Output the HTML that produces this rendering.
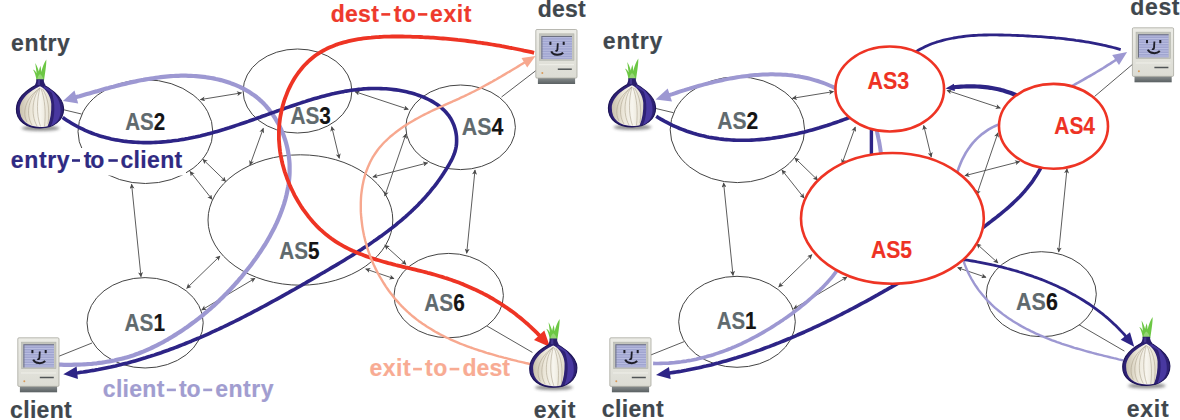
<!DOCTYPE html>
<html><head><meta charset="utf-8"><style>
html,body{margin:0;padding:0;background:#fff;}
svg{display:block;}
</style></head><body>
<svg width="1180" height="420" viewBox="0 0 1180 420">
<defs>
<filter id="blur1" x="-50%" y="-200%" width="200%" height="500%"><feGaussianBlur stdDeviation="1.5"/></filter>
<linearGradient id="creamA" x1="0" y1="0" x2="1" y2="0"><stop offset="0" stop-color="#c9c1ad"/><stop offset="0.35" stop-color="#ebe6d8"/><stop offset="0.65" stop-color="#f7f5ee"/><stop offset="1" stop-color="#e2dccb"/></linearGradient>
<linearGradient id="creamB" x1="0" y1="0" x2="1" y2="0"><stop offset="0" stop-color="#c9c1ad"/><stop offset="0.35" stop-color="#ebe6d8"/><stop offset="0.65" stop-color="#f7f5ee"/><stop offset="1" stop-color="#e2dccb"/></linearGradient>
<linearGradient id="creamC" x1="0" y1="0" x2="1" y2="0"><stop offset="0" stop-color="#c9c1ad"/><stop offset="0.35" stop-color="#ebe6d8"/><stop offset="0.65" stop-color="#f7f5ee"/><stop offset="1" stop-color="#e2dccb"/></linearGradient>
<linearGradient id="creamD" x1="0" y1="0" x2="1" y2="0"><stop offset="0" stop-color="#c9c1ad"/><stop offset="0.35" stop-color="#ebe6d8"/><stop offset="0.65" stop-color="#f7f5ee"/><stop offset="1" stop-color="#e2dccb"/></linearGradient>
<linearGradient id="body" x1="0" y1="0" x2="0" y2="1"><stop offset="0" stop-color="#ececE6"/><stop offset="1" stop-color="#dcdcd4"/></linearGradient>
<linearGradient id="base" x1="0" y1="0" x2="0" y2="1"><stop offset="0" stop-color="#8a8f90"/><stop offset="1" stop-color="#5a6062"/></linearGradient>
<marker id="ahe" viewBox="0 0 10 10" refX="9" refY="5" markerWidth="6" markerHeight="5" markerUnits="userSpaceOnUse" orient="auto"><path d="M0,0 L10,5 L0,10 L2.5,5 Z" fill="#4a4a4a"/></marker>
<marker id="ahs" viewBox="0 0 10 10" refX="1" refY="5" markerWidth="6" markerHeight="5" markerUnits="userSpaceOnUse" orient="auto"><path d="M10,0 L0,5 L10,10 L7.5,5 Z" fill="#4a4a4a"/></marker>
<marker id="lpah" viewBox="0 0 10 10" refX="8" refY="5" markerWidth="16" markerHeight="12" markerUnits="userSpaceOnUse" orient="auto"><path d="M0,0 L10,5 L0,10 L2,5 Z" fill="#9d98d2"/></marker>
<marker id="lpah2" viewBox="0 0 10 10" refX="8" refY="5" markerWidth="14" markerHeight="11" markerUnits="userSpaceOnUse" orient="auto"><path d="M0,0 L10,5 L0,10 L2,5 Z" fill="#9d98d2"/></marker>
<marker id="dbah" viewBox="0 0 10 10" refX="8" refY="5" markerWidth="15" markerHeight="11" markerUnits="userSpaceOnUse" orient="auto"><path d="M0,0 L10,5 L0,10 L2,5 Z" fill="#2d2486"/></marker>
<marker id="dbah2" viewBox="0 0 10 10" refX="8" refY="5" markerWidth="13" markerHeight="10" markerUnits="userSpaceOnUse" orient="auto"><path d="M0,0 L10,5 L0,10 L2,5 Z" fill="#2d2486"/></marker>
<marker id="redah" viewBox="0 0 10 10" refX="8" refY="5" markerWidth="15" markerHeight="11" markerUnits="userSpaceOnUse" orient="auto"><path d="M0,0 L10,5 L0,10 L2,5 Z" fill="#ee3424"/></marker>
<marker id="salah" viewBox="0 0 10 10" refX="8" refY="5" markerWidth="13" markerHeight="10" markerUnits="userSpaceOnUse" orient="auto"><path d="M0,0 L10,5 L0,10 L2,5 Z" fill="#f7a88f"/></marker>
</defs>
<g stroke="#4a4a4a" stroke-width="0.9" fill="none">
<line x1="200.4" y1="99.6" x2="241.5" y2="92.9" marker-start="url(#ahs)" marker-end="url(#ahe)"/>
<line x1="190" y1="171.4" x2="212.1" y2="199.3" marker-start="url(#ahs)" marker-end="url(#ahe)"/>
<line x1="202.9" y1="159.3" x2="225.7" y2="181.4" marker-start="url(#ahs)" marker-end="url(#ahe)"/>
<line x1="263.3" y1="128.3" x2="250" y2="165" marker-start="url(#ahs)" marker-end="url(#ahe)"/>
<line x1="331.7" y1="126.7" x2="339.3" y2="158.3" marker-start="url(#ahs)" marker-end="url(#ahe)"/>
<line x1="355" y1="91.7" x2="408.3" y2="109.3" marker-start="url(#ahs)" marker-end="url(#ahe)"/>
<line x1="131.6" y1="184.2" x2="141" y2="276.7" marker-start="url(#ahs)" marker-end="url(#ahe)"/>
<line x1="186.7" y1="288.3" x2="220" y2="256" marker-start="url(#ahs)" marker-end="url(#ahe)"/>
<line x1="201.7" y1="310" x2="255" y2="278.3" marker-start="url(#ahs)" marker-end="url(#ahe)"/>
<line x1="372.9" y1="177" x2="427.6" y2="162.9" marker-start="url(#ahs)" marker-end="url(#ahe)"/>
<line x1="384.8" y1="196" x2="406" y2="134" marker-start="url(#ahs)" marker-end="url(#ahe)"/>
<line x1="475" y1="170" x2="466.7" y2="253.3" marker-start="url(#ahs)" marker-end="url(#ahe)"/>
<line x1="384.8" y1="245.2" x2="406" y2="264.3" marker-start="url(#ahs)" marker-end="url(#ahe)"/>
<line x1="365.7" y1="269" x2="394" y2="278.6" marker-start="url(#ahs)" marker-end="url(#ahe)"/>
<line x1="487" y1="326" x2="532.4" y2="352.4"/>
<line x1="501.5" y1="97" x2="536" y2="70.5"/>
<line x1="92" y1="343" x2="57" y2="357"/>
<line x1="81.5" y1="114" x2="62.6" y2="109.5"/>
</g>
<ellipse cx="145.4" cy="131.6" rx="67.4" ry="51.9" fill="none" stroke="#444" stroke-width="1"/>
<ellipse cx="297.5" cy="91" rx="54.4" ry="42" fill="none" stroke="#444" stroke-width="1"/>
<ellipse cx="460.6" cy="127.3" rx="54.8" ry="42.3" fill="none" stroke="#444" stroke-width="1"/>
<ellipse cx="300.4" cy="220" rx="92.4" ry="65.2" fill="none" stroke="#444" stroke-width="1"/>
<ellipse cx="145.1" cy="322.8" rx="58.1" ry="45.2" fill="none" stroke="#444" stroke-width="1"/>
<ellipse cx="448.7" cy="295.6" rx="54.7" ry="42.2" fill="none" stroke="#444" stroke-width="1"/>
<path d="M58.9,364.6 L61.4,364.7 L64.0,364.8 L66.5,364.8 L69.0,364.8 L71.5,364.8 L74.1,364.7 L76.6,364.7 L79.1,364.6 L81.7,364.5 L84.2,364.3 L86.7,364.2 L89.3,364.0 L91.8,363.8 L94.3,363.5 L96.8,363.3 L99.3,362.9 L101.9,362.6 L104.4,362.2 L106.9,361.8 L109.4,361.4 L111.8,360.9 L114.3,360.5 L116.8,359.9 L119.2,359.3 L121.7,358.7 L124.1,358.1 L126.6,357.4 L129.0,356.7 L131.4,355.9 L133.8,355.2 L136.1,354.3 L138.5,353.5 L140.9,352.5 L143.2,351.6 L145.5,350.6 L147.8,349.6 L150.1,348.6 L152.4,347.5 L154.7,346.4 L156.9,345.3 L159.1,344.2 L161.4,343.0 L163.6,341.8 L165.8,340.5 L168.0,339.3 L170.1,338.0 L172.3,336.7 L174.4,335.4 L176.5,334.1 L178.6,332.7 L180.7,331.4 L182.8,330.0 L184.8,328.6 L186.9,327.2 L188.9,325.8 L190.9,324.3 L192.9,322.8 L194.9,321.4 L196.8,319.9 L198.8,318.4 L200.7,316.8 L202.6,315.3 L204.5,313.7 L206.4,312.1 L208.3,310.5 L210.2,308.9 L212.0,307.3 L213.9,305.6 L215.7,304.0 L217.5,302.3 L219.3,300.6 L221.1,298.8 L222.9,297.1 L224.6,295.3 L226.4,293.6 L228.1,291.8 L229.8,290.0 L231.5,288.1 L233.2,286.3 L234.9,284.4 L236.6,282.5 L238.3,280.6 L239.9,278.7 L241.6,276.8 L243.2,274.8 L244.8,272.8 L246.4,270.8 L248.0,268.8 L249.6,266.8 L251.2,264.7 L252.7,262.6 L254.2,260.5 L255.8,258.4 L257.3,256.3 L258.7,254.2 L260.2,252.0 L261.6,249.9 L263.0,247.7 L264.4,245.5 L265.8,243.3 L267.1,241.1 L268.4,238.8 L269.7,236.6 L270.9,234.3 L272.1,232.1 L273.3,229.8 L274.5,227.5 L275.6,225.2 L276.7,222.9 L277.7,220.6 L278.7,218.2 L279.7,215.9 L280.6,213.5 L281.5,211.2 L282.4,208.8 L283.2,206.4 L284.0,204.1 L284.7,201.7 L285.4,199.3 L286.0,196.9 L286.6,194.5 L287.1,192.1 L287.6,189.7 L288.1,187.2 L288.5,184.8 L288.8,182.4 L289.1,180.0 L289.3,177.5 L289.5,175.1 L289.6,172.7 L289.6,170.2 L289.6,167.8 L289.6,165.3 L289.5,162.9 L289.3,160.5 L289.0,158.0 L288.7,155.6 L288.3,153.1 L287.9,150.7 L287.4,148.3 L286.8,145.8 L286.2,143.4 L285.5,141.0 L284.7,138.6 L283.9,136.2 L283.0,133.8 L282.0,131.5 L281.0,129.2 L279.9,126.9 L278.8,124.6 L277.6,122.4 L276.3,120.2 L275.0,118.0 L273.6,115.9 L272.2,113.8 L270.7,111.7 L269.1,109.7 L267.5,107.8 L265.9,105.9 L264.2,104.1 L262.4,102.3 L260.6,100.6 L258.7,98.9 L256.8,97.3 L254.8,95.8 L252.8,94.4 L250.7,93.0 L248.6,91.6 L246.4,90.4 L244.2,89.2 L242.0,88.0 L239.8,86.9 L237.5,85.9 L235.2,84.9 L232.8,84.0 L230.4,83.1 L228.0,82.3 L225.6,81.5 L223.2,80.8 L220.8,80.1 L218.3,79.5 L215.8,79.0 L213.4,78.4 L210.9,78.0 L208.4,77.6 L205.9,77.2 L203.4,76.9 L200.9,76.6 L198.4,76.3 L195.9,76.1 L193.4,76.0 L190.9,75.8 L188.4,75.8 L185.9,75.7 L183.4,75.7 L180.9,75.7 L178.4,75.8 L175.9,75.9 L173.3,76.0 L170.8,76.2 L168.3,76.4 L165.8,76.6 L163.3,76.9 L160.8,77.2 L158.3,77.5 L155.8,77.8 L153.3,78.2 L150.8,78.6 L148.3,79.0 L145.8,79.4 L143.3,79.9 L140.8,80.3 L138.3,80.8 L135.8,81.4 L133.3,81.9 L130.8,82.4 L128.3,83.0 L125.8,83.6 L123.3,84.2 L120.9,84.8 L118.4,85.4 L115.9,86.0 L113.5,86.7 L111.0,87.3 L108.6,88.0 L106.1,88.6 L103.7,89.3 L101.2,90.0 L98.8,90.7 L96.4,91.4 L94.0,92.0 L91.6,92.7 L89.2,93.4 L86.8,94.1 L84.4,94.8 L82.0,95.5 L79.6,96.2 L77.2,96.8 L74.9,97.5" stroke="#9d98d2" stroke-width="4.2" fill="none" stroke-linejoin="round" /><path d="M62.9,101.0 L74.5,90.6 L78.2,103.6 Z" fill="#9d98d2"/>
<path d="M62.7,117.4 L64.8,119.0 L67.0,120.4 L69.2,121.8 L71.5,123.2 L73.7,124.5 L76.0,125.8 L78.2,127.0 L80.5,128.1 L82.8,129.2 L85.1,130.3 L87.5,131.3 L89.8,132.3 L92.1,133.2 L94.5,134.1 L96.9,134.9 L99.2,135.7 L101.6,136.4 L104.0,137.1 L106.4,137.7 L108.8,138.3 L111.2,138.9 L113.7,139.4 L116.1,139.9 L118.5,140.3 L121.0,140.7 L123.4,141.1 L125.9,141.4 L128.4,141.7 L130.8,141.9 L133.3,142.1 L135.8,142.3 L138.3,142.4 L140.7,142.5 L143.2,142.6 L145.7,142.6 L148.2,142.6 L150.7,142.6 L153.2,142.5 L155.7,142.4 L158.2,142.3 L160.7,142.1 L163.2,141.9 L165.6,141.7 L168.1,141.4 L170.6,141.2 L173.1,140.8 L175.6,140.5 L178.1,140.2 L180.6,139.8 L183.0,139.4 L185.5,138.9 L188.0,138.5 L190.4,138.0 L192.9,137.5 L195.3,137.0 L197.8,136.4 L200.2,135.9 L202.7,135.3 L205.1,134.7 L207.5,134.1 L209.9,133.4 L212.4,132.8 L214.8,132.1 L217.2,131.4 L219.6,130.7 L222.0,130.0 L224.4,129.3 L226.8,128.5 L229.2,127.8 L231.6,127.0 L233.9,126.2 L236.3,125.4 L238.7,124.6 L241.1,123.8 L243.5,123.0 L245.8,122.2 L248.2,121.4 L250.6,120.5 L252.9,119.7 L255.3,118.9 L257.7,118.0 L260.1,117.2 L262.4,116.3 L264.8,115.5 L267.2,114.6 L269.5,113.8 L271.9,112.9 L274.3,112.1 L276.6,111.3 L279.0,110.4 L281.4,109.6 L283.7,108.7 L286.1,107.9 L288.5,107.1 L290.9,106.3 L293.2,105.5 L295.6,104.7 L298.0,103.9 L300.4,103.1 L302.8,102.3 L305.1,101.6 L307.5,100.8 L309.9,100.1 L312.3,99.3 L314.7,98.6 L317.1,97.9 L319.5,97.3 L321.9,96.6 L324.4,95.9 L326.8,95.3 L329.2,94.7 L331.6,94.1 L334.0,93.6 L336.5,93.0 L338.9,92.5 L341.4,92.0 L343.8,91.6 L346.2,91.1 L348.7,90.7 L351.2,90.3 L353.6,90.0 L356.1,89.7 L358.6,89.4 L361.0,89.2 L363.5,88.9 L366.0,88.8 L368.5,88.6 L371.0,88.5 L373.5,88.5 L376.0,88.5 L378.5,88.5 L381.0,88.6 L383.5,88.7 L386.1,88.8 L388.6,89.0 L391.1,89.3 L393.7,89.6 L396.2,89.9 L398.8,90.3 L401.3,90.8 L403.9,91.3 L406.5,91.8 L409.0,92.4 L411.5,93.1 L414.1,93.8 L416.6,94.6 L419.0,95.5 L421.5,96.4 L423.9,97.3 L426.2,98.4 L428.5,99.5 L430.8,100.6 L433.0,101.9 L435.1,103.2 L437.1,104.5 L439.1,106.0 L441.0,107.5 L442.8,109.1 L444.6,110.8 L446.2,112.5 L447.7,114.3 L449.2,116.2 L450.5,118.2 L451.7,120.3 L452.7,122.4 L453.7,124.7 L454.5,126.9 L455.2,129.3 L455.8,131.7 L456.2,134.1 L456.5,136.5 L456.6,139.0 L456.6,141.5 L456.5,144.0 L456.2,146.5 L455.7,148.9 L455.1,151.4 L454.3,153.8 L453.3,156.1 L452.3,158.5 L451.1,160.8 L449.9,163.0 L448.6,165.3 L447.3,167.5 L445.9,169.7 L444.6,171.8 L443.2,174.0 L441.8,176.1 L440.3,178.2 L438.9,180.2 L437.4,182.3 L435.9,184.3 L434.4,186.3 L432.8,188.2 L431.2,190.2 L429.7,192.1 L428.0,194.0 L426.4,195.9 L424.8,197.7 L423.1,199.5 L421.4,201.4 L419.7,203.1 L418.0,204.9 L416.2,206.7 L414.4,208.4 L412.7,210.1 L410.9,211.8 L409.0,213.5 L407.2,215.2 L405.4,216.8 L403.5,218.4 L401.6,220.1 L399.7,221.7 L397.8,223.2 L395.9,224.8 L393.9,226.4 L392.0,227.9 L390.0,229.4 L388.1,230.9 L386.1,232.4 L384.1,233.9 L382.1,235.4 L380.0,236.8 L378.0,238.3 L376.0,239.7 L373.9,241.1 L371.8,242.6 L369.8,244.0 L367.7,245.4 L365.6,246.7 L363.5,248.1 L361.4,249.5 L359.3,250.8 L357.2,252.2 L355.0,253.5 L352.9,254.9 L350.8,256.2 L348.6,257.5 L346.5,258.8 L344.3,260.2 L342.2,261.5 L340.0,262.8 L337.8,264.1 L335.7,265.4 L333.5,266.6 L331.3,267.9 L329.1,269.2 L327.0,270.5 L324.8,271.8 L322.6,273.0 L320.4,274.3 L318.2,275.6 L316.1,276.9 L313.9,278.1 L311.7,279.4 L309.5,280.7 L307.3,281.9 L305.1,283.2 L303.0,284.4 L300.8,285.7 L298.6,287.0 L296.4,288.2 L294.2,289.5 L292.0,290.7 L289.8,291.9 L287.6,293.2 L285.4,294.4 L283.2,295.6 L281.0,296.9 L278.8,298.1 L276.6,299.3 L274.4,300.5 L272.2,301.7 L270.0,302.9 L267.8,304.1 L265.6,305.3 L263.4,306.5 L261.2,307.7 L259.0,308.9 L256.7,310.1 L254.5,311.2 L252.3,312.4 L250.1,313.6 L247.9,314.7 L245.6,315.9 L243.4,317.0 L241.2,318.1 L238.9,319.3 L236.7,320.4 L234.5,321.5 L232.2,322.6 L230.0,323.7 L227.7,324.8 L225.5,325.9 L223.2,327.0 L221.0,328.0 L218.7,329.1 L216.4,330.1 L214.2,331.2 L211.9,332.2 L209.6,333.3 L207.4,334.3 L205.1,335.3 L202.8,336.3 L200.5,337.3 L198.2,338.3 L195.9,339.2 L193.6,340.2 L191.3,341.2 L189.0,342.1 L186.7,343.0 L184.4,344.0 L182.1,344.9 L179.8,345.8 L177.5,346.7 L175.1,347.6 L172.8,348.5 L170.5,349.3 L168.1,350.2 L165.8,351.0 L163.5,351.8 L161.1,352.7 L158.8,353.5 L156.4,354.3 L154.0,355.1 L151.7,355.8 L149.3,356.6 L146.9,357.3 L144.5,358.1 L142.1,358.8 L139.8,359.5 L137.4,360.2 L135.0,360.9 L132.6,361.6 L130.1,362.2 L127.7,362.9 L125.3,363.5 L122.9,364.1 L120.4,364.7 L118.0,365.3 L115.6,365.9 L113.1,366.4 L110.7,367.0 L108.2,367.5 L105.8,368.0 L103.3,368.5 L100.8,369.0 L98.3,369.5 L95.8,369.9 L93.4,370.4 L90.9,370.8 L88.3,371.2 L85.8,371.6 L83.3,372.0 L80.8,372.3 L78.3,372.7 L75.7,373.0" stroke="#2d2486" stroke-width="3.6" fill="none" stroke-linejoin="round" /><path d="M63.3,374.2 L76.6,366.6 L77.9,378.9 Z" fill="#2d2486"/>
<path d="M534.1,52.8 L531.6,52.2 L529.1,51.6 L526.5,51.1 L524.0,50.6 L521.5,50.0 L519.0,49.5 L516.5,49.0 L514.0,48.5 L511.6,48.0 L509.1,47.6 L506.6,47.1 L504.2,46.6 L501.7,46.2 L499.2,45.7 L496.8,45.3 L494.3,44.9 L491.9,44.5 L489.5,44.1 L487.0,43.7 L484.6,43.3 L482.1,43.0 L479.7,42.6 L477.3,42.3 L474.8,41.9 L472.4,41.6 L470.0,41.3 L467.5,41.0 L465.1,40.7 L462.7,40.4 L460.2,40.1 L457.8,39.9 L455.3,39.6 L452.9,39.3 L450.4,39.1 L448.0,38.9 L445.5,38.7 L443.0,38.5 L440.6,38.3 L438.1,38.1 L435.6,37.9 L433.1,37.7 L430.6,37.6 L428.1,37.4 L425.6,37.3 L423.0,37.2 L420.5,37.0 L417.9,36.9 L415.4,36.8 L412.8,36.8 L410.3,36.7 L407.7,36.6 L405.1,36.6 L402.5,36.5 L399.9,36.5 L397.2,36.5 L394.6,36.5 L392.0,36.5 L389.4,36.6 L386.8,36.6 L384.1,36.7 L381.5,36.8 L378.9,37.0 L376.3,37.1 L373.7,37.3 L371.1,37.6 L368.6,37.8 L366.0,38.1 L363.4,38.4 L360.9,38.8 L358.4,39.2 L355.9,39.6 L353.4,40.1 L350.9,40.6 L348.5,41.2 L346.1,41.8 L343.7,42.4 L341.3,43.1 L339.0,43.8 L336.6,44.6 L334.4,45.5 L332.1,46.4 L329.9,47.3 L327.7,48.3 L325.6,49.4 L323.5,50.5 L321.4,51.7 L319.4,52.9 L317.4,54.2 L315.4,55.5 L313.5,57.0 L311.7,58.5 L309.9,60.0 L308.1,61.6 L306.4,63.3 L304.7,65.0 L303.1,66.8 L301.5,68.7 L300.0,70.6 L298.5,72.5 L297.1,74.5 L295.7,76.5 L294.4,78.6 L293.1,80.8 L291.9,82.9 L290.7,85.1 L289.6,87.4 L288.5,89.6 L287.5,91.9 L286.6,94.3 L285.7,96.6 L284.8,99.0 L284.0,101.4 L283.3,103.8 L282.6,106.3 L282.0,108.8 L281.4,111.3 L280.9,113.8 L280.4,116.3 L280.0,118.8 L279.7,121.3 L279.4,123.9 L279.2,126.4 L279.0,129.0 L278.9,131.5 L278.9,134.1 L278.9,136.6 L278.9,139.1 L279.1,141.7 L279.3,144.2 L279.5,146.8 L279.8,149.3 L280.1,151.8 L280.5,154.3 L281.0,156.8 L281.5,159.3 L282.0,161.8 L282.6,164.3 L283.3,166.7 L284.0,169.2 L284.7,171.6 L285.5,174.0 L286.4,176.4 L287.2,178.8 L288.2,181.2 L289.1,183.6 L290.1,185.9 L291.2,188.2 L292.3,190.5 L293.4,192.8 L294.5,195.1 L295.7,197.3 L297.0,199.5 L298.3,201.7 L299.6,203.9 L300.9,206.0 L302.3,208.1 L303.7,210.2 L305.2,212.2 L306.7,214.2 L308.2,216.2 L309.8,218.1 L311.4,220.1 L313.0,221.9 L314.7,223.8 L316.4,225.6 L318.1,227.3 L319.9,229.1 L321.7,230.7 L323.6,232.4 L325.5,234.0 L327.4,235.5 L329.3,237.0 L331.3,238.5 L333.3,239.9 L335.4,241.3 L337.4,242.6 L339.5,243.9 L341.7,245.1 L343.8,246.3 L346.0,247.5 L348.2,248.6 L350.4,249.7 L352.7,250.8 L355.0,251.8 L357.2,252.8 L359.6,253.7 L361.9,254.6 L364.2,255.5 L366.6,256.4 L369.0,257.2 L371.3,258.0 L373.7,258.8 L376.2,259.6 L378.6,260.3 L381.0,261.0 L383.4,261.7 L385.9,262.4 L388.3,263.1 L390.8,263.7 L393.2,264.3 L395.7,265.0 L398.1,265.6 L400.6,266.2 L403.1,266.8 L405.5,267.4 L408.0,267.9 L410.4,268.5 L412.9,269.1 L415.4,269.7 L417.8,270.3 L420.3,270.9 L422.7,271.5 L425.2,272.1 L427.6,272.8 L430.1,273.4 L432.5,274.1 L434.9,274.8 L437.3,275.5 L439.7,276.2 L442.1,276.9 L444.5,277.7 L446.9,278.4 L449.3,279.2 L451.7,280.0 L454.0,280.9 L456.4,281.7 L458.7,282.6 L461.0,283.5 L463.4,284.4 L465.7,285.4 L468.0,286.4 L470.3,287.4 L472.5,288.4 L474.8,289.4 L477.1,290.5 L479.3,291.6 L481.6,292.7 L483.8,293.9 L486.0,295.0 L488.2,296.2 L490.4,297.5 L492.6,298.7 L494.7,300.0 L496.9,301.3 L499.0,302.6 L501.1,304.0 L503.2,305.4 L505.3,306.8 L507.4,308.2 L509.4,309.6 L511.5,311.1 L513.5,312.6 L515.5,314.1 L517.5,315.7 L519.5,317.2 L521.4,318.8 L523.3,320.4 L525.3,322.1 L527.2,323.7 L529.0,325.4 L530.9,327.1 L532.7,328.8 L534.6,330.6 L536.4,332.3 L538.1,334.1 L539.9,335.9 L541.6,337.8" stroke="#ee3424" stroke-width="3.8" fill="none" stroke-linejoin="round" /><path d="M550.0,347.1 L534.0,340.1 L544.3,330.6 Z" fill="#ee3424"/>
<path d="M532.7,364.7 L530.3,364.1 L527.9,363.5 L525.5,363.0 L523.1,362.4 L520.7,361.8 L518.3,361.3 L515.8,360.7 L513.4,360.1 L511.0,359.5 L508.6,358.8 L506.1,358.2 L503.7,357.6 L501.2,356.9 L498.8,356.3 L496.3,355.6 L493.9,354.9 L491.5,354.2 L489.0,353.5 L486.6,352.8 L484.2,352.0 L481.7,351.2 L479.3,350.5 L476.9,349.7 L474.5,348.9 L472.1,348.0 L469.7,347.2 L467.3,346.3 L464.9,345.4 L462.6,344.5 L460.2,343.6 L457.9,342.6 L455.6,341.6 L453.2,340.6 L450.9,339.6 L448.7,338.5 L446.4,337.5 L444.1,336.4 L441.9,335.2 L439.7,334.1 L437.5,332.9 L435.3,331.7 L433.1,330.4 L431.0,329.1 L428.8,327.8 L426.7,326.5 L424.7,325.1 L422.6,323.7 L420.6,322.3 L418.6,320.9 L416.6,319.4 L414.6,317.8 L412.7,316.3 L410.8,314.7 L408.9,313.0 L407.1,311.3 L405.3,309.6 L403.5,307.9 L401.7,306.1 L400.0,304.3 L398.3,302.4 L396.7,300.6 L395.0,298.7 L393.4,296.7 L391.9,294.7 L390.3,292.7 L388.8,290.7 L387.4,288.7 L385.9,286.6 L384.6,284.5 L383.2,282.3 L381.9,280.2 L380.6,278.0 L379.3,275.8 L378.1,273.6 L376.9,271.3 L375.8,269.1 L374.7,266.8 L373.6,264.5 L372.6,262.1 L371.6,259.8 L370.7,257.4 L369.8,255.1 L368.9,252.7 L368.1,250.3 L367.3,247.8 L366.6,245.4 L365.9,243.0 L365.2,240.5 L364.6,238.0 L364.0,235.6 L363.5,233.1 L363.0,230.6 L362.6,228.1 L362.2,225.6 L361.9,223.0 L361.6,220.5 L361.3,218.0 L361.1,215.5 L360.9,212.9 L360.8,210.4 L360.8,207.9 L360.8,205.3 L360.8,202.8 L360.9,200.3 L361.0,197.8 L361.2,195.2 L361.5,192.7 L361.8,190.3 L362.2,187.8 L362.6,185.3 L363.1,182.9 L363.6,180.5 L364.2,178.1 L364.9,175.7 L365.6,173.3 L366.4,171.0 L367.3,168.7 L368.2,166.4 L369.2,164.2 L370.2,162.0 L371.4,159.8 L372.5,157.7 L373.8,155.6 L375.2,153.5 L376.6,151.5 L378.0,149.5 L379.6,147.6 L381.2,145.7 L382.9,143.8 L384.6,142.0 L386.4,140.3 L388.3,138.5 L390.1,136.8 L392.1,135.2 L394.1,133.6 L396.1,132.0 L398.1,130.5 L400.2,129.0 L402.3,127.5 L404.4,126.1 L406.6,124.7 L408.8,123.3 L411.0,122.0 L413.2,120.7 L415.4,119.4 L417.6,118.2 L419.8,117.0 L422.1,115.8 L424.3,114.6 L426.6,113.5 L428.9,112.4 L431.1,111.3 L433.4,110.2 L435.7,109.1 L438.0,108.1 L440.3,107.0 L442.6,106.0 L444.9,104.9 L447.2,103.9 L449.5,102.9 L451.8,101.9 L454.0,100.8 L456.3,99.8 L458.6,98.8 L460.9,97.7 L463.2,96.7 L465.4,95.6 L467.7,94.5 L470.0,93.4 L472.2,92.3 L474.4,91.2 L476.7,90.0 L478.9,88.9 L481.1,87.7 L483.3,86.5 L485.5,85.3 L487.7,84.1 L489.9,82.9 L492.1,81.7 L494.3,80.4 L496.5,79.2 L498.7,77.9 L500.8,76.7 L503.0,75.4 L505.2,74.1 L507.3,72.8 L509.5,71.6 L511.7,70.3 L513.8,69.0 L516.0,67.7 L518.2,66.4 L520.3,65.1 L522.5,63.8 L524.6,62.5 L526.8,61.1" stroke="#f7a88f" stroke-width="2.4" fill="none" stroke-linejoin="round" /><path d="M535.5,56.0 L527.2,67.4 L521.5,57.9 Z" fill="#f7a88f"/>
<rect x="9" y="148" width="177" height="27.5" fill="#fff"/>
<g transform="translate(592,-1.3)"><g stroke="#4a4a4a" stroke-width="0.9" fill="none">
<line x1="200.4" y1="99.6" x2="241.5" y2="92.9" marker-start="url(#ahs)" marker-end="url(#ahe)"/>
<line x1="190" y1="171.4" x2="212.1" y2="199.3" marker-start="url(#ahs)" marker-end="url(#ahe)"/>
<line x1="202.9" y1="159.3" x2="225.7" y2="181.4" marker-start="url(#ahs)" marker-end="url(#ahe)"/>
<line x1="263.3" y1="128.3" x2="250" y2="165" marker-start="url(#ahs)" marker-end="url(#ahe)"/>
<line x1="331.7" y1="126.7" x2="339.3" y2="158.3" marker-start="url(#ahs)" marker-end="url(#ahe)"/>
<line x1="355" y1="91.7" x2="408.3" y2="109.3" marker-start="url(#ahs)" marker-end="url(#ahe)"/>
<line x1="131.6" y1="184.2" x2="141" y2="276.7" marker-start="url(#ahs)" marker-end="url(#ahe)"/>
<line x1="186.7" y1="288.3" x2="220" y2="256" marker-start="url(#ahs)" marker-end="url(#ahe)"/>
<line x1="201.7" y1="310" x2="255" y2="278.3" marker-start="url(#ahs)" marker-end="url(#ahe)"/>
<line x1="372.9" y1="177" x2="427.6" y2="162.9" marker-start="url(#ahs)" marker-end="url(#ahe)"/>
<line x1="384.8" y1="196" x2="406" y2="134" marker-start="url(#ahs)" marker-end="url(#ahe)"/>
<line x1="475" y1="170" x2="466.7" y2="253.3" marker-start="url(#ahs)" marker-end="url(#ahe)"/>
<line x1="384.8" y1="245.2" x2="406" y2="264.3" marker-start="url(#ahs)" marker-end="url(#ahe)"/>
<line x1="365.7" y1="269" x2="394" y2="278.6" marker-start="url(#ahs)" marker-end="url(#ahe)"/>
<line x1="487" y1="326" x2="532.4" y2="352.4"/>
<line x1="92" y1="343" x2="57" y2="357"/>
<line x1="81.5" y1="114" x2="62.6" y2="109.5"/>
</g></g>
<line x1="1094.5" y1="96.5" x2="1133.5" y2="63.5" stroke="#4a4a4a" stroke-width="0.9"/>
<ellipse cx="737.4" cy="129.7" rx="67.2" ry="52.9" fill="none" stroke="#444" stroke-width="1"/>
<ellipse cx="737" cy="321.8" rx="58.3" ry="45.5" fill="none" stroke="#444" stroke-width="1"/>
<ellipse cx="1041.3" cy="294.2" rx="55" ry="42.5" fill="none" stroke="#444" stroke-width="1"/>
<path d="M653.1,363.4 L655.7,363.5 L658.3,363.5 L660.9,363.4 L663.5,363.3 L666.1,363.2 L668.7,363.1 L671.2,362.9 L673.8,362.7 L676.3,362.4 L678.9,362.1 L681.4,361.8 L683.9,361.4 L686.4,361.1 L688.9,360.6 L691.4,360.2 L693.8,359.7 L696.3,359.2 L698.7,358.6 L701.2,358.0 L703.6,357.4 L706.0,356.8 L708.5,356.1 L710.9,355.4 L713.3,354.7 L715.6,353.9 L718.0,353.1 L720.4,352.3 L722.7,351.5 L725.1,350.6 L727.4,349.7 L729.8,348.8 L732.1,347.8 L734.4,346.9 L736.7,345.9 L739.0,344.8 L741.3,343.8 L743.6,342.7 L745.8,341.6 L748.1,340.5 L750.3,339.4 L752.6,338.2 L754.8,337.0 L757.0,335.8 L759.2,334.6 L761.4,333.4 L763.6,332.1 L765.8,330.8 L768.0,329.5 L770.2,328.2 L772.3,326.9 L774.5,325.5 L776.6,324.1 L778.8,322.7 L780.9,321.3 L783.0,319.9 L785.1,318.4 L787.2,317.0 L789.3,315.5 L791.4,314.0 L793.4,312.5 L795.5,310.9 L797.5,309.4 L799.5,307.8 L801.5,306.2 L803.5,304.6 L805.4,303.0 L807.4,301.4 L809.3,299.7 L811.2,298.0 L813.1,296.3 L815.0,294.6 L816.8,292.9 L818.7,291.2 L820.5,289.4 L822.3,287.7 L824.0,285.9 L825.8,284.1 L827.5,282.2 L829.1,280.4 L830.8,278.5 L832.4,276.6 L833.9,274.6 L835.4,272.7 L836.9,270.7 L838.3,268.6 L839.6,266.5 L840.9,264.4 L842.1,262.2 L843.3,259.9 L844.4,257.7 L845.4,255.3" stroke="#9d98d2" stroke-width="3.6" fill="none" stroke-linejoin="round" stroke-linecap="butt" />
<path d="M881.0,165.0 L881.1,162.3 L881.2,159.6 L881.1,156.9 L880.9,154.2 L880.7,151.6 L880.3,148.9 L879.9,146.3 L879.5,143.7 L879.0,141.0 L878.4,138.4 L877.9,135.8 L877.3,133.2 L876.8,130.5 L876.3,127.9 L875.8,125.3 L875.3,122.7 L875.0,120.0" stroke="#9d98d2" stroke-width="4.0" fill="none" stroke-linejoin="round" stroke-linecap="butt" />
<path d="M850.4,97.0 L848.1,95.5 L845.9,94.0 L843.6,92.6 L841.3,91.3 L839.0,90.0 L836.7,88.8 L834.3,87.6 L832.0,86.5 L829.6,85.5 L827.3,84.5 L824.9,83.5 L822.5,82.6 L820.1,81.8 L817.7,81.0 L815.3,80.3 L812.8,79.6 L810.4,78.9 L807.9,78.3 L805.5,77.7 L803.0,77.2 L800.5,76.8 L798.1,76.3 L795.6,76.0 L793.1,75.6 L790.6,75.3 L788.1,75.1 L785.6,74.8 L783.0,74.7 L780.5,74.5 L778.0,74.4 L775.5,74.4 L772.9,74.3 L770.4,74.3 L767.8,74.4 L765.3,74.5 L762.8,74.6 L760.2,74.7 L757.7,74.9 L755.1,75.1 L752.6,75.3 L750.0,75.6 L747.4,75.9 L744.9,76.2 L742.3,76.5 L739.8,76.9 L737.2,77.3 L734.7,77.7 L732.1,78.2 L729.6,78.6 L727.0,79.1 L724.5,79.6 L722.0,80.2 L719.4,80.7 L716.9,81.3 L714.4,81.9 L711.9,82.5 L709.3,83.1 L706.8,83.8 L704.3,84.4 L701.8,85.1 L699.3,85.8 L696.8,86.5 L694.4,87.2 L691.9,87.9 L689.4,88.7 L687.0,89.4 L684.5,90.2 L682.1,90.9 L679.6,91.7 L677.2,92.5 L674.8,93.3 L672.4,94.1 L670.0,94.8 L667.6,95.6" stroke="#9d98d2" stroke-width="4.0" fill="none" stroke-linejoin="round" /><path d="M655.6,99.6 L667.7,88.4 L672.0,101.4 Z" fill="#9d98d2"/>
<path d="M1123.3,360.4 L1120.9,359.8 L1118.6,359.3 L1116.2,358.7 L1113.8,358.2 L1111.4,357.6 L1109.0,357.0 L1106.6,356.4 L1104.1,355.8 L1101.7,355.2 L1099.2,354.6 L1096.8,354.0 L1094.3,353.3 L1091.8,352.7 L1089.3,352.0 L1086.8,351.3 L1084.4,350.7 L1081.9,349.9 L1079.4,349.2 L1076.9,348.5 L1074.4,347.8 L1071.9,347.0 L1069.4,346.2 L1067.0,345.4 L1064.5,344.6 L1062.0,343.8 L1059.6,342.9 L1057.1,342.1 L1054.7,341.2 L1052.2,340.3 L1049.8,339.3 L1047.4,338.4 L1045.0,337.4 L1042.6,336.4 L1040.2,335.4 L1037.9,334.3 L1035.5,333.3 L1033.2,332.2 L1030.9,331.1 L1028.6,329.9 L1026.3,328.8 L1024.0,327.6 L1021.8,326.4 L1019.6,325.1 L1017.4,323.8 L1015.2,322.5 L1013.1,321.2 L1011.0,319.8 L1008.9,318.4 L1006.8,317.0 L1004.8,315.6 L1002.8,314.1 L1000.8,312.5 L998.9,311.0 L997.0,309.4 L995.1,307.8 L993.2,306.1 L991.4,304.4 L989.7,302.7 L987.9,300.9 L986.2,299.1 L984.6,297.3 L983.0,295.4 L981.4,293.5 L979.8,291.6 L978.3,289.6 L976.9,287.5 L975.5,285.5 L974.1,283.4 L972.8,281.2 L971.5,279.0 L970.3,276.8 L969.1,274.5 L968.0,272.2 L966.9,269.8 L965.9,267.4 L964.9,264.9 L964.0,262.4 L963.1,259.8 L962.3,257.2 L961.6,254.6 L960.9,251.9 L960.2,249.2" stroke="#9d98d2" stroke-width="2.4" fill="none" stroke-linejoin="round" stroke-linecap="butt" />
<path d="M955.3,180.2 L955.9,177.6 L956.6,175.0 L957.3,172.5 L958.1,169.9 L958.9,167.4 L959.9,165.0 L960.9,162.6 L961.9,160.2 L963.1,157.9 L964.3,155.6 L965.5,153.3 L966.9,151.1 L968.3,149.0 L969.8,146.9 L971.3,144.9 L972.9,142.9 L974.6,141.0 L976.4,139.2 L978.2,137.4 L980.1,135.7 L982.0,134.1 L984.1,132.6 L986.2,131.1 L988.3,129.7 L990.5,128.4 L992.8,127.1 L995.2,126.0 L997.6,124.9 L1000.1,123.9 L1002.7,123.0 L1005.3,122.3" stroke="#9d98d2" stroke-width="2.6" fill="none" stroke-linejoin="round" stroke-linecap="butt" />
<path d="M1064.9,89.9 L1067.2,88.7 L1069.5,87.4 L1071.8,86.1 L1074.1,84.9 L1076.3,83.6 L1078.6,82.4 L1080.9,81.1 L1083.1,79.8 L1085.4,78.5 L1087.7,77.2 L1089.9,76.0 L1092.2,74.7 L1094.4,73.3 L1096.6,72.0 L1098.9,70.7 L1101.1,69.3 L1103.3,68.0 L1105.5,66.6 L1107.7,65.2 L1109.9,63.9 L1112.1,62.4 L1114.3,61.0 L1116.4,59.6" stroke="#9d98d2" stroke-width="2.6" fill="none" stroke-linejoin="round" /><path d="M1127.1,52.1 L1119.0,65.0 L1112.2,55.1 Z" fill="#9d98d2"/>
<path d="M656.2,116.2 L658.5,117.7 L660.8,119.1 L663.1,120.4 L665.4,121.7 L667.8,122.9 L670.1,124.1 L672.5,125.3 L674.9,126.4 L677.3,127.4 L679.7,128.5 L682.1,129.4 L684.5,130.3 L686.9,131.2 L689.3,132.0 L691.7,132.8 L694.2,133.6 L696.6,134.3 L699.1,134.9 L701.5,135.6 L704.0,136.1 L706.5,136.7 L708.9,137.2 L711.4,137.6 L713.9,138.0 L716.4,138.4 L718.9,138.8 L721.4,139.1 L723.9,139.4 L726.4,139.6 L728.9,139.8 L731.4,140.0 L733.9,140.1 L736.4,140.2 L739.0,140.3 L741.5,140.3 L744.0,140.3 L746.5,140.2 L749.1,140.2 L751.6,140.1 L754.1,140.0 L756.7,139.8 L759.2,139.6 L761.7,139.4 L764.3,139.2 L766.8,138.9 L769.3,138.6 L771.8,138.3 L774.4,137.9 L776.9,137.5 L779.4,137.1 L782.0,136.7 L784.5,136.3 L787.0,135.8 L789.5,135.3 L792.0,134.8 L794.6,134.3 L797.1,133.7 L799.6,133.1 L802.1,132.5 L804.6,131.9 L807.1,131.2 L809.6,130.6 L812.1,129.9 L814.5,129.2 L817.0,128.5 L819.5,127.8 L821.9,127.0 L824.4,126.2 L826.9,125.5 L829.3,124.7 L831.7,123.9 L834.2,123.0 L836.6,122.2 L839.0,121.4 L841.4,120.5 L843.8,119.6 L846.2,118.8 L848.6,117.9 L851.0,117.0 L853.4,116.0 L855.7,115.1 L858.1,114.2 L860.4,113.3 L862.7,112.3 L865.1,111.4 L867.4,110.4 L869.7,109.4" stroke="#2d2486" stroke-width="3.6" fill="none" stroke-linejoin="round" stroke-linecap="butt" />
<path d="M871.4,120.0 L871.4,122.6 L871.4,125.3 L871.4,127.9 L871.4,130.6 L871.4,133.2 L871.4,135.9 L871.4,138.5 L871.4,141.2 L871.4,143.8 L871.4,146.5 L871.4,149.1 L871.4,151.8 L871.4,154.4 L871.4,157.1 L871.5,159.7 L871.5,162.4 L871.6,165.0" stroke="#2d2486" stroke-width="3.4" fill="none" stroke-linejoin="round" stroke-linecap="butt" />
<path d="M905.6,278.8 L903.4,280.1 L901.2,281.4 L899.0,282.6 L896.9,283.9 L894.7,285.2 L892.5,286.4 L890.3,287.7 L888.1,288.9 L885.9,290.2 L883.7,291.4 L881.5,292.7 L879.3,293.9 L877.1,295.2 L874.9,296.4 L872.7,297.6 L870.5,298.9 L868.2,300.1 L866.0,301.3 L863.8,302.5 L861.5,303.7 L859.3,304.9 L857.1,306.1 L854.8,307.3 L852.6,308.5 L850.3,309.7 L848.1,310.9 L845.8,312.0 L843.5,313.2 L841.3,314.4 L839.0,315.5 L836.7,316.7 L834.4,317.8 L832.2,318.9 L829.9,320.1 L827.6,321.2 L825.3,322.3 L823.0,323.4 L820.7,324.5 L818.4,325.6 L816.1,326.7 L813.8,327.7 L811.5,328.8 L809.1,329.9 L806.8,330.9 L804.5,332.0 L802.2,333.0 L799.8,334.0 L797.5,335.0 L795.2,336.1 L792.8,337.1 L790.5,338.1 L788.1,339.0 L785.8,340.0 L783.4,341.0 L781.1,341.9 L778.7,342.9 L776.3,343.8 L774.0,344.7 L771.6,345.6 L769.2,346.6 L766.8,347.4 L764.4,348.3 L762.1,349.2 L759.7,350.1 L757.3,350.9 L754.9,351.8 L752.5,352.6 L750.1,353.4 L747.6,354.2 L745.2,355.0 L742.8,355.8 L740.4,356.6 L738.0,357.3 L735.5,358.1 L733.1,358.8 L730.7,359.5 L728.2,360.2 L725.8,360.9 L723.3,361.6 L720.9,362.3 L718.4,363.0 L716.0,363.6 L713.5,364.2 L711.1,364.9 L708.6,365.5 L706.1,366.1 L703.6,366.6 L701.2,367.2 L698.7,367.8 L696.2,368.3 L693.7,368.8 L691.2,369.3 L688.7,369.8 L686.2,370.3 L683.7,370.7 L681.2,371.2 L678.7,371.6 L676.2,372.0 L673.7,372.4 L671.1,372.8 L668.6,373.2" stroke="#2d2486" stroke-width="3.6" fill="none" stroke-linejoin="round" /><path d="M656.0,375.0 L669.0,366.9 L670.7,379.1 Z" fill="#2d2486"/>
<path d="M1025.1,99.8 L1022.8,98.5 L1020.5,97.2 L1018.1,96.1 L1015.7,95.0 L1013.3,94.0 L1010.9,93.0 L1008.4,92.2 L1005.9,91.4 L1003.3,90.6 L1000.8,89.9 L998.2,89.3 L995.6,88.8 L993.0,88.3 L990.4,87.8 L987.7,87.4 L985.1,87.1 L982.4,86.9 L979.8,86.7 L977.1,86.5 L974.4,86.4 L971.8,86.3 L969.1,86.3 L966.4,86.4 L963.8,86.5 L961.1,86.6 L958.5,86.8 L955.9,87.0 L953.3,87.3" stroke="#2d2486" stroke-width="4.2" fill="none" stroke-linejoin="round" /><path d="M945.5,88.6 L953.9,83.8 L954.9,90.9 Z" fill="#2d2486"/>
<path d="M1044.6,159.6 L1043.5,162.1 L1042.4,164.6 L1041.2,167.0 L1040.0,169.3 L1038.7,171.6 L1037.4,173.9 L1036.0,176.1 L1034.5,178.3 L1033.1,180.5 L1031.6,182.6 L1030.0,184.7 L1028.4,186.7 L1026.8,188.7 L1025.1,190.7 L1023.4,192.6 L1021.7,194.5 L1019.9,196.4 L1018.1,198.2 L1016.3,200.0 L1014.4,201.8 L1012.5,203.6 L1010.6,205.4 L1008.7,207.1 L1006.7,208.8 L1004.7,210.5 L1002.7,212.2 L1000.7,213.8 L998.6,215.5 L996.6,217.1 L994.5,218.7 L992.4,220.3 L990.4,221.9 L988.3,223.5 L986.2,225.1 L984.0,226.7 L981.9,228.3 L979.8,229.8" stroke="#2d2486" stroke-width="3.6" fill="none" stroke-linejoin="round" stroke-linecap="butt" />
<path d="M904.4,61.3 L906.2,59.5 L908.1,57.7 L910.1,56.1 L912.1,54.5 L914.1,53.0 L916.2,51.6 L918.3,50.3 L920.5,49.0 L922.7,47.9 L924.9,46.8 L927.2,45.7 L929.4,44.8 L931.8,43.8 L934.1,43.0 L936.4,42.2 L938.8,41.5 L941.2,40.8 L943.6,40.1 L946.1,39.5 L948.5,39.0 L951.0,38.5 L953.5,38.0 L956.0,37.6 L958.5,37.2 L961.0,36.8 L963.5,36.5 L966.0,36.2 L968.6,35.9 L971.1,35.7 L973.7,35.5 L976.3,35.4 L978.8,35.2 L981.4,35.1 L984.0,35.0 L986.6,35.0 L989.2,34.9 L991.8,34.9 L994.4,34.9 L997.0,34.9 L999.6,35.0 L1002.2,35.0 L1004.8,35.1 L1007.4,35.1 L1010.0,35.2 L1012.5,35.3 L1015.1,35.4 L1017.7,35.5 L1020.3,35.6 L1022.9,35.7 L1025.4,35.9 L1028.0,36.0 L1030.5,36.1 L1033.1,36.3 L1035.6,36.4 L1038.2,36.6 L1040.7,36.7 L1043.2,36.9 L1045.7,37.1 L1048.3,37.3 L1050.8,37.5 L1053.3,37.7 L1055.8,38.0 L1058.3,38.2 L1060.8,38.4 L1063.3,38.7 L1065.8,39.0 L1068.3,39.3 L1070.8,39.6 L1073.3,39.9 L1075.8,40.3 L1078.3,40.6 L1080.8,41.0 L1083.3,41.4 L1085.8,41.8 L1088.3,42.2 L1090.8,42.6 L1093.3,43.1 L1095.8,43.6 L1098.3,44.1 L1100.8,44.6 L1103.2,45.2 L1105.7,45.7 L1108.2,46.3 L1110.7,46.9 L1113.2,47.5 L1115.7,48.2 L1118.2,48.9 L1120.7,49.6" stroke="#2d2486" stroke-width="2.8" fill="none" stroke-linejoin="round" stroke-linecap="butt" />
<path d="M955.0,258.3 L957.5,258.7 L960.0,259.0 L962.5,259.4 L964.9,259.8 L967.4,260.2 L969.9,260.6 L972.4,261.0 L974.9,261.4 L977.3,261.9 L979.8,262.3 L982.3,262.8 L984.8,263.3 L987.3,263.8 L989.8,264.3 L992.3,264.9 L994.7,265.4 L997.2,266.0 L999.7,266.6 L1002.2,267.2 L1004.6,267.8 L1007.1,268.5 L1009.6,269.1 L1012.0,269.8 L1014.5,270.5 L1016.9,271.2 L1019.4,272.0 L1021.8,272.7 L1024.3,273.5 L1026.7,274.3 L1029.1,275.1 L1031.5,275.9 L1033.9,276.8 L1036.3,277.6 L1038.7,278.5 L1041.1,279.4 L1043.4,280.3 L1045.8,281.3 L1048.1,282.3 L1050.5,283.2 L1052.8,284.3 L1055.1,285.3 L1057.4,286.3 L1059.7,287.4 L1062.0,288.5 L1064.3,289.6 L1066.5,290.8 L1068.7,292.0 L1071.0,293.2 L1073.2,294.4 L1075.4,295.6 L1077.6,296.9 L1079.7,298.1 L1081.9,299.5 L1084.0,300.8 L1086.2,302.2 L1088.3,303.5 L1090.3,304.9 L1092.4,306.4 L1094.5,307.8 L1096.5,309.3 L1098.5,310.8 L1100.5,312.4 L1102.5,313.9 L1104.4,315.5 L1106.4,317.1 L1108.3,318.8 L1110.2,320.5 L1112.1,322.2 L1113.9,323.9 L1115.7,325.6 L1117.6,327.4 L1119.3,329.2 L1121.1,331.1 L1122.8,332.9 L1124.6,334.8 L1126.2,336.8" stroke="#2d2486" stroke-width="2.8" fill="none" stroke-linejoin="round" /><path d="M1134.2,346.8 L1120.7,339.8 L1130.0,332.2 Z" fill="#2d2486"/>
<ellipse cx="889.75" cy="89" rx="54.3" ry="42.5" fill="#fff" stroke="#ee3424" stroke-width="2.6"/>
<ellipse cx="1053.5" cy="126.3" rx="54.5" ry="42.4" fill="#fff" stroke="#ee3424" stroke-width="2.6"/>
<ellipse cx="892.4" cy="218.4" rx="91.4" ry="65.4" fill="#fff" stroke="#ee3424" stroke-width="2.6"/>
<g font-family='"Liberation Sans", sans-serif' font-weight="bold" font-size="23.5">
<text x="125.2" y="129.6" textLength="40" lengthAdjust="spacingAndGlyphs" stroke-width="0.15"><tspan fill="#606a6e" stroke="#606a6e">AS</tspan><tspan fill="#141414" stroke="#141414">2</tspan></text>
<text x="290.4" y="123.5" textLength="40.5" lengthAdjust="spacingAndGlyphs" stroke-width="0.15"><tspan fill="#606a6e" stroke="#606a6e">AS</tspan><tspan fill="#141414" stroke="#141414">3</tspan></text>
<text x="461.7" y="135.4" textLength="41.6" lengthAdjust="spacingAndGlyphs" stroke-width="0.15"><tspan fill="#606a6e" stroke="#606a6e">AS</tspan><tspan fill="#141414" stroke="#141414">4</tspan></text>
<text x="279.3" y="259.3" textLength="40.3" lengthAdjust="spacingAndGlyphs" stroke-width="0.15"><tspan fill="#606a6e" stroke="#606a6e">AS</tspan><tspan fill="#141414" stroke="#141414">5</tspan></text>
<text x="124.5" y="330.8" textLength="40.5" lengthAdjust="spacingAndGlyphs" stroke-width="0.15"><tspan fill="#606a6e" stroke="#606a6e">AS</tspan><tspan fill="#141414" stroke="#141414">1</tspan></text>
<text x="424.3" y="310.5" textLength="40.5" lengthAdjust="spacingAndGlyphs" stroke-width="0.15"><tspan fill="#606a6e" stroke="#606a6e">AS</tspan><tspan fill="#141414" stroke="#141414">6</tspan></text>
<text x="717.3" y="128.5" textLength="41" lengthAdjust="spacingAndGlyphs" stroke-width="0.15"><tspan fill="#606a6e" stroke="#606a6e">AS</tspan><tspan fill="#141414" stroke="#141414">2</tspan></text>
<text x="867.5" y="88.6" textLength="41.8" lengthAdjust="spacingAndGlyphs" fill="#ee3224" stroke="#ee3224" stroke-width="0.15">AS3</text>
<text x="1054.3" y="133.9" textLength="40.7" lengthAdjust="spacingAndGlyphs" fill="#ee3224" stroke="#ee3224" stroke-width="0.15">AS4</text>
<text x="870.9" y="258.2" textLength="41.1" lengthAdjust="spacingAndGlyphs" fill="#ee3224" stroke="#ee3224" stroke-width="0.15">AS5</text>
<text x="716.7" y="329.3" textLength="39.8" lengthAdjust="spacingAndGlyphs" stroke-width="0.15"><tspan fill="#606a6e" stroke="#606a6e">AS</tspan><tspan fill="#141414" stroke="#141414">1</tspan></text>
<text x="1016.1" y="309.8" textLength="41.7" lengthAdjust="spacingAndGlyphs" stroke-width="0.15"><tspan fill="#606a6e" stroke="#606a6e">AS</tspan><tspan fill="#141414" stroke="#141414">6</tspan></text>
</g>
<g font-family='"Liberation Sans", sans-serif' font-weight="bold" font-size="23">
<text x="11.1" y="50.7" textLength="58.7" lengthAdjust="spacing" fill="#40474d" stroke="#40474d" stroke-width="0.2">entry</text>
<text x="602.8" y="48.9" textLength="59.4" lengthAdjust="spacing" fill="#40474d" stroke="#40474d" stroke-width="0.2">entry</text>
<text x="537.7" y="16.6" textLength="48.0" lengthAdjust="spacing" fill="#40474d" stroke="#40474d" stroke-width="0.2">dest</text>
<text x="1130.3" y="15.4" textLength="49.2" lengthAdjust="spacing" fill="#40474d" stroke="#40474d" stroke-width="0.2">dest</text>
<text x="10.1" y="418.3" textLength="61.6" lengthAdjust="spacing" fill="#40474d" stroke="#40474d" stroke-width="0.2">client</text>
<text x="601.8" y="417.3" textLength="61.9" lengthAdjust="spacing" fill="#40474d" stroke="#40474d" stroke-width="0.2">client</text>
<text x="533.8" y="418.3" textLength="41.5" lengthAdjust="spacing" fill="#40474d" stroke="#40474d" stroke-width="0.2">exit</text>
<text x="1126.8" y="417.4" textLength="41.8" lengthAdjust="spacing" fill="#40474d" stroke="#40474d" stroke-width="0.2">exit</text>
<text x="10.8" y="167.8" textLength="58.8" lengthAdjust="spacing" fill="#2f2a82" stroke="#2f2a82" stroke-width="0.2">entry</text>
<rect x="72.0" y="159.2" width="8.0" height="2.6" fill="#2f2a82"/>
<text x="83.8" y="167.8" textLength="20.6" lengthAdjust="spacing" fill="#2f2a82" stroke="#2f2a82" stroke-width="0.2">to</text>
<rect x="108.4" y="159.2" width="9.4" height="2.6" fill="#2f2a82"/>
<text x="120.4" y="167.8" textLength="61.8" lengthAdjust="spacing" fill="#2f2a82" stroke="#2f2a82" stroke-width="0.2">client</text>
<text x="102.8" y="397.2" textLength="61.5" lengthAdjust="spacing" fill="#a19dd0" stroke="#a19dd0" stroke-width="0.2">client</text>
<rect x="166.8" y="388.6" width="9.1" height="2.6" fill="#a19dd0"/>
<text x="179.0" y="397.2" textLength="21.5" lengthAdjust="spacing" fill="#a19dd0" stroke="#a19dd0" stroke-width="0.2">to</text>
<rect x="203.2" y="388.6" width="9.0" height="2.6" fill="#a19dd0"/>
<text x="215.3" y="397.2" textLength="58.2" lengthAdjust="spacing" fill="#a19dd0" stroke="#a19dd0" stroke-width="0.2">entry</text>
<text x="330.8" y="21.7" textLength="48.0" lengthAdjust="spacing" fill="#ee3a2c" stroke="#ee3a2c" stroke-width="0.2">dest</text>
<rect x="381.3" y="13.1" width="8.9" height="2.6" fill="#ee3a2c"/>
<text x="393.7" y="21.7" textLength="22.1" lengthAdjust="spacing" fill="#ee3a2c" stroke="#ee3a2c" stroke-width="0.2">to</text>
<rect x="417.9" y="13.1" width="9.4" height="2.6" fill="#ee3a2c"/>
<text x="430.1" y="21.7" textLength="41.2" lengthAdjust="spacing" fill="#ee3a2c" stroke="#ee3a2c" stroke-width="0.2">exit</text>
<text x="369.4" y="376.4" textLength="41.2" lengthAdjust="spacing" fill="#f8ab93" stroke="#f8ab93" stroke-width="0.2">exit</text>
<rect x="413.1" y="367.8" width="8.8" height="2.6" fill="#f8ab93"/>
<text x="425.0" y="376.4" textLength="22.2" lengthAdjust="spacing" fill="#f8ab93" stroke="#f8ab93" stroke-width="0.2">to</text>
<rect x="449.6" y="367.8" width="9.7" height="2.6" fill="#f8ab93"/>
<text x="462.5" y="376.4" textLength="47.5" lengthAdjust="spacing" fill="#f8ab93" stroke="#f8ab93" stroke-width="0.2">dest</text>
</g>
<g transform="translate(0,0)">
<ellipse cx="40.5" cy="128.2" rx="19" ry="2.8" fill="#222" opacity="0.5" filter="url(#blur1)"/>
<path d="M36.5,80.5 C36,76 35,73 33,69.5 C35,70.5 36,72 36.6,73.5 C36.3,70 35.6,66 35.3,63 C37,66 38.2,69 38.8,71.5 C39.2,69.5 39.8,67.5 40.4,65.7 C41,68 41.2,70 41.3,72 C42.5,67.5 44,63 46.3,59.6 C46.5,64 45.5,71 44,80.5 Z" fill="#6cc744"/>
<path d="M37,80.5 C37.5,77 38.5,75 40,74 C41.5,75 43,77 43.6,80.5 Z" fill="#a8dc8c" opacity="0.7"/>
<path d="M40,83.3 C33,86.5 16.8,95 16.4,109 C16.1,121 27,128 40,128 C53,128 63.7,121 63.6,108.5 C63.5,96 47,86.5 40,83.3 Z" fill="#2e2174" stroke="#1c1356" stroke-width="1.1"/>
<path d="M36.3,79.3 L43.7,79.3 C43.8,82 44.5,84 46,85.5 L34.5,85.5 C35.8,84 36.3,82 36.3,79.3 Z" fill="#2a1e6c"/>
<path d="M38,80 L40,80 L40,85 L37.5,85 Z" fill="#5647a6" opacity="0.6"/>
<path d="M51,90.5 C57.5,95.5 61,103 60.5,112 C60,119 56.5,123.5 51,126 C55,118 56,103 51,90.5 Z" fill="#4a3aa2" opacity="0.95"/>
<path d="M44,86 C49,88 53,91 55,94 C51,92.5 47.5,90 44,88.5 Z" fill="#4a3aa2" opacity="0.8"/>
<path d="M40,86.3 C34,89 20,97 19.8,109 C19.6,120.5 28,126.8 40,126.9 C44,126.9 46.5,126.6 47.6,126.2 C50.5,120 51.5,112 51.3,104 C51,97 47,91 43,88 C42,87.2 41,86.6 40,86.3 Z" fill="url(#creamA)"/>
<g stroke="#a89e88" stroke-width="0.6" fill="none" opacity="0.9">
<path d="M40,88 C33,95 30,114 37,126"/>
<path d="M40,88 C29,96 25,114 32,125"/>
<path d="M40,88 C25,98 22,113 27,122"/>
<path d="M40,88 C37,99 36,114 40.5,126.5"/>
<path d="M41,88.5 C45,99 46,113 44.5,126.5"/>
<path d="M42.5,89 C48,97 50,110 48,124"/>
</g>
</g>
<g transform="translate(592,-1)">
<ellipse cx="40.5" cy="128.2" rx="19" ry="2.8" fill="#222" opacity="0.5" filter="url(#blur1)"/>
<path d="M36.5,80.5 C36,76 35,73 33,69.5 C35,70.5 36,72 36.6,73.5 C36.3,70 35.6,66 35.3,63 C37,66 38.2,69 38.8,71.5 C39.2,69.5 39.8,67.5 40.4,65.7 C41,68 41.2,70 41.3,72 C42.5,67.5 44,63 46.3,59.6 C46.5,64 45.5,71 44,80.5 Z" fill="#6cc744"/>
<path d="M37,80.5 C37.5,77 38.5,75 40,74 C41.5,75 43,77 43.6,80.5 Z" fill="#a8dc8c" opacity="0.7"/>
<path d="M40,83.3 C33,86.5 16.8,95 16.4,109 C16.1,121 27,128 40,128 C53,128 63.7,121 63.6,108.5 C63.5,96 47,86.5 40,83.3 Z" fill="#2e2174" stroke="#1c1356" stroke-width="1.1"/>
<path d="M36.3,79.3 L43.7,79.3 C43.8,82 44.5,84 46,85.5 L34.5,85.5 C35.8,84 36.3,82 36.3,79.3 Z" fill="#2a1e6c"/>
<path d="M38,80 L40,80 L40,85 L37.5,85 Z" fill="#5647a6" opacity="0.6"/>
<path d="M51,90.5 C57.5,95.5 61,103 60.5,112 C60,119 56.5,123.5 51,126 C55,118 56,103 51,90.5 Z" fill="#4a3aa2" opacity="0.95"/>
<path d="M44,86 C49,88 53,91 55,94 C51,92.5 47.5,90 44,88.5 Z" fill="#4a3aa2" opacity="0.8"/>
<path d="M40,86.3 C34,89 20,97 19.8,109 C19.6,120.5 28,126.8 40,126.9 C44,126.9 46.5,126.6 47.6,126.2 C50.5,120 51.5,112 51.3,104 C51,97 47,91 43,88 C42,87.2 41,86.6 40,86.3 Z" fill="url(#creamB)"/>
<g stroke="#a89e88" stroke-width="0.6" fill="none" opacity="0.9">
<path d="M40,88 C33,95 30,114 37,126"/>
<path d="M40,88 C29,96 25,114 32,125"/>
<path d="M40,88 C25,98 22,113 27,122"/>
<path d="M40,88 C37,99 36,114 40.5,126.5"/>
<path d="M41,88.5 C45,99 46,113 44.5,126.5"/>
<path d="M42.5,89 C48,97 50,110 48,124"/>
</g>
</g>
<g transform="translate(513.3,259.3)">
<ellipse cx="40.5" cy="128.2" rx="19" ry="2.8" fill="#222" opacity="0.5" filter="url(#blur1)"/>
<path d="M36.5,80.5 C36,76 35,73 33,69.5 C35,70.5 36,72 36.6,73.5 C36.3,70 35.6,66 35.3,63 C37,66 38.2,69 38.8,71.5 C39.2,69.5 39.8,67.5 40.4,65.7 C41,68 41.2,70 41.3,72 C42.5,67.5 44,63 46.3,59.6 C46.5,64 45.5,71 44,80.5 Z" fill="#6cc744"/>
<path d="M37,80.5 C37.5,77 38.5,75 40,74 C41.5,75 43,77 43.6,80.5 Z" fill="#a8dc8c" opacity="0.7"/>
<path d="M40,83.3 C33,86.5 16.8,95 16.4,109 C16.1,121 27,128 40,128 C53,128 63.7,121 63.6,108.5 C63.5,96 47,86.5 40,83.3 Z" fill="#2e2174" stroke="#1c1356" stroke-width="1.1"/>
<path d="M36.3,79.3 L43.7,79.3 C43.8,82 44.5,84 46,85.5 L34.5,85.5 C35.8,84 36.3,82 36.3,79.3 Z" fill="#2a1e6c"/>
<path d="M38,80 L40,80 L40,85 L37.5,85 Z" fill="#5647a6" opacity="0.6"/>
<path d="M51,90.5 C57.5,95.5 61,103 60.5,112 C60,119 56.5,123.5 51,126 C55,118 56,103 51,90.5 Z" fill="#4a3aa2" opacity="0.95"/>
<path d="M44,86 C49,88 53,91 55,94 C51,92.5 47.5,90 44,88.5 Z" fill="#4a3aa2" opacity="0.8"/>
<path d="M40,86.3 C34,89 20,97 19.8,109 C19.6,120.5 28,126.8 40,126.9 C44,126.9 46.5,126.6 47.6,126.2 C50.5,120 51.5,112 51.3,104 C51,97 47,91 43,88 C42,87.2 41,86.6 40,86.3 Z" fill="url(#creamC)"/>
<g stroke="#a89e88" stroke-width="0.6" fill="none" opacity="0.9">
<path d="M40,88 C33,95 30,114 37,126"/>
<path d="M40,88 C29,96 25,114 32,125"/>
<path d="M40,88 C25,98 22,113 27,122"/>
<path d="M40,88 C37,99 36,114 40.5,126.5"/>
<path d="M41,88.5 C45,99 46,113 44.5,126.5"/>
<path d="M42.5,89 C48,97 50,110 48,124"/>
</g>
</g>
<g transform="translate(1106.3,257.5)">
<ellipse cx="40.5" cy="128.2" rx="19" ry="2.8" fill="#222" opacity="0.5" filter="url(#blur1)"/>
<path d="M36.5,80.5 C36,76 35,73 33,69.5 C35,70.5 36,72 36.6,73.5 C36.3,70 35.6,66 35.3,63 C37,66 38.2,69 38.8,71.5 C39.2,69.5 39.8,67.5 40.4,65.7 C41,68 41.2,70 41.3,72 C42.5,67.5 44,63 46.3,59.6 C46.5,64 45.5,71 44,80.5 Z" fill="#6cc744"/>
<path d="M37,80.5 C37.5,77 38.5,75 40,74 C41.5,75 43,77 43.6,80.5 Z" fill="#a8dc8c" opacity="0.7"/>
<path d="M40,83.3 C33,86.5 16.8,95 16.4,109 C16.1,121 27,128 40,128 C53,128 63.7,121 63.6,108.5 C63.5,96 47,86.5 40,83.3 Z" fill="#2e2174" stroke="#1c1356" stroke-width="1.1"/>
<path d="M36.3,79.3 L43.7,79.3 C43.8,82 44.5,84 46,85.5 L34.5,85.5 C35.8,84 36.3,82 36.3,79.3 Z" fill="#2a1e6c"/>
<path d="M38,80 L40,80 L40,85 L37.5,85 Z" fill="#5647a6" opacity="0.6"/>
<path d="M51,90.5 C57.5,95.5 61,103 60.5,112 C60,119 56.5,123.5 51,126 C55,118 56,103 51,90.5 Z" fill="#4a3aa2" opacity="0.95"/>
<path d="M44,86 C49,88 53,91 55,94 C51,92.5 47.5,90 44,88.5 Z" fill="#4a3aa2" opacity="0.8"/>
<path d="M40,86.3 C34,89 20,97 19.8,109 C19.6,120.5 28,126.8 40,126.9 C44,126.9 46.5,126.6 47.6,126.2 C50.5,120 51.5,112 51.3,104 C51,97 47,91 43,88 C42,87.2 41,86.6 40,86.3 Z" fill="url(#creamD)"/>
<g stroke="#a89e88" stroke-width="0.6" fill="none" opacity="0.9">
<path d="M40,88 C33,95 30,114 37,126"/>
<path d="M40,88 C29,96 25,114 32,125"/>
<path d="M40,88 C25,98 22,113 27,122"/>
<path d="M40,88 C37,99 36,114 40.5,126.5"/>
<path d="M41,88.5 C45,99 46,113 44.5,126.5"/>
<path d="M42.5,89 C48,97 50,110 48,124"/>
</g>
</g>
<g transform="translate(0,0)">
<rect x="19.9" y="386" width="37.2" height="6.3" fill="url(#base)"/>
<rect x="17.8" y="337.8" width="41.2" height="48.6" rx="1.2" fill="url(#body)" stroke="#a8a8a0" stroke-width="0.8"/>
<rect x="21.4" y="342.1" width="34.6" height="26.6" fill="#c4c5bd" stroke="#b0b1a9" stroke-width="0.5"/>
<rect x="23.4" y="344.2" width="30.6" height="23.2" fill="#a0a5d0"/>
<g stroke="#bcc0e2" stroke-width="0.9">
<line x1="23.4" y1="346" x2="54" y2="346"/><line x1="23.4" y1="348.5" x2="54" y2="348.5"/>
<line x1="23.4" y1="351" x2="54" y2="351"/><line x1="23.4" y1="353.5" x2="54" y2="353.5"/>
<line x1="23.4" y1="356" x2="54" y2="356"/><line x1="23.4" y1="358.5" x2="54" y2="358.5"/>
<line x1="23.4" y1="361" x2="54" y2="361"/><line x1="23.4" y1="363.5" x2="54" y2="363.5"/>
<line x1="23.4" y1="366" x2="54" y2="366"/>
</g>
<path d="M23.4,344.2 L54,344.2 L54,345.2 L24.4,345.2 L24.4,367.4 L23.4,367.4 Z" fill="#6d7080"/>
<rect x="31.4" y="350" width="2" height="3.2" fill="#1e1e28"/>
<rect x="44.7" y="350" width="2" height="3.2" fill="#1e1e28"/>
<path d="M39.8,351.5 L39.4,358 C39.2,359.3 38.2,359.4 37.6,358.6" stroke="#1e1e28" stroke-width="1.8" fill="none"/>
<path d="M33.2,359.6 C35,363.8 42,364.2 45.2,361" stroke="#1e1e28" stroke-width="2" fill="none"/>
<line x1="21" y1="373" x2="56" y2="373" stroke="#f4f4ee" stroke-width="0.8"/>
<line x1="39.8" y1="377.5" x2="53.8" y2="377.5" stroke="#505456" stroke-width="1.5"/>
<circle cx="24.3" cy="381.2" r="1" fill="#d89a5a"/>
</g>
<g transform="translate(592,0)">
<rect x="19.9" y="386" width="37.2" height="6.3" fill="url(#base)"/>
<rect x="17.8" y="337.8" width="41.2" height="48.6" rx="1.2" fill="url(#body)" stroke="#a8a8a0" stroke-width="0.8"/>
<rect x="21.4" y="342.1" width="34.6" height="26.6" fill="#c4c5bd" stroke="#b0b1a9" stroke-width="0.5"/>
<rect x="23.4" y="344.2" width="30.6" height="23.2" fill="#a0a5d0"/>
<g stroke="#bcc0e2" stroke-width="0.9">
<line x1="23.4" y1="346" x2="54" y2="346"/><line x1="23.4" y1="348.5" x2="54" y2="348.5"/>
<line x1="23.4" y1="351" x2="54" y2="351"/><line x1="23.4" y1="353.5" x2="54" y2="353.5"/>
<line x1="23.4" y1="356" x2="54" y2="356"/><line x1="23.4" y1="358.5" x2="54" y2="358.5"/>
<line x1="23.4" y1="361" x2="54" y2="361"/><line x1="23.4" y1="363.5" x2="54" y2="363.5"/>
<line x1="23.4" y1="366" x2="54" y2="366"/>
</g>
<path d="M23.4,344.2 L54,344.2 L54,345.2 L24.4,345.2 L24.4,367.4 L23.4,367.4 Z" fill="#6d7080"/>
<rect x="31.4" y="350" width="2" height="3.2" fill="#1e1e28"/>
<rect x="44.7" y="350" width="2" height="3.2" fill="#1e1e28"/>
<path d="M39.8,351.5 L39.4,358 C39.2,359.3 38.2,359.4 37.6,358.6" stroke="#1e1e28" stroke-width="1.8" fill="none"/>
<path d="M33.2,359.6 C35,363.8 42,364.2 45.2,361" stroke="#1e1e28" stroke-width="2" fill="none"/>
<line x1="21" y1="373" x2="56" y2="373" stroke="#f4f4ee" stroke-width="0.8"/>
<line x1="39.8" y1="377.5" x2="53.8" y2="377.5" stroke="#505456" stroke-width="1.5"/>
<circle cx="24.3" cy="381.2" r="1" fill="#d89a5a"/>
</g>
<g transform="translate(518,-308.3)">
<rect x="19.9" y="386" width="37.2" height="6.3" fill="url(#base)"/>
<rect x="17.8" y="337.8" width="41.2" height="48.6" rx="1.2" fill="url(#body)" stroke="#a8a8a0" stroke-width="0.8"/>
<rect x="21.4" y="342.1" width="34.6" height="26.6" fill="#c4c5bd" stroke="#b0b1a9" stroke-width="0.5"/>
<rect x="23.4" y="344.2" width="30.6" height="23.2" fill="#a0a5d0"/>
<g stroke="#bcc0e2" stroke-width="0.9">
<line x1="23.4" y1="346" x2="54" y2="346"/><line x1="23.4" y1="348.5" x2="54" y2="348.5"/>
<line x1="23.4" y1="351" x2="54" y2="351"/><line x1="23.4" y1="353.5" x2="54" y2="353.5"/>
<line x1="23.4" y1="356" x2="54" y2="356"/><line x1="23.4" y1="358.5" x2="54" y2="358.5"/>
<line x1="23.4" y1="361" x2="54" y2="361"/><line x1="23.4" y1="363.5" x2="54" y2="363.5"/>
<line x1="23.4" y1="366" x2="54" y2="366"/>
</g>
<path d="M23.4,344.2 L54,344.2 L54,345.2 L24.4,345.2 L24.4,367.4 L23.4,367.4 Z" fill="#6d7080"/>
<rect x="31.4" y="350" width="2" height="3.2" fill="#1e1e28"/>
<rect x="44.7" y="350" width="2" height="3.2" fill="#1e1e28"/>
<path d="M39.8,351.5 L39.4,358 C39.2,359.3 38.2,359.4 37.6,358.6" stroke="#1e1e28" stroke-width="1.8" fill="none"/>
<path d="M33.2,359.6 C35,363.8 42,364.2 45.2,361" stroke="#1e1e28" stroke-width="2" fill="none"/>
<line x1="21" y1="373" x2="56" y2="373" stroke="#f4f4ee" stroke-width="0.8"/>
<line x1="39.8" y1="377.5" x2="53.8" y2="377.5" stroke="#505456" stroke-width="1.5"/>
<circle cx="24.3" cy="381.2" r="1" fill="#d89a5a"/>
</g>
<g transform="translate(1114.6,-310)">
<rect x="19.9" y="386" width="37.2" height="6.3" fill="url(#base)"/>
<rect x="17.8" y="337.8" width="41.2" height="48.6" rx="1.2" fill="url(#body)" stroke="#a8a8a0" stroke-width="0.8"/>
<rect x="21.4" y="342.1" width="34.6" height="26.6" fill="#c4c5bd" stroke="#b0b1a9" stroke-width="0.5"/>
<rect x="23.4" y="344.2" width="30.6" height="23.2" fill="#a0a5d0"/>
<g stroke="#bcc0e2" stroke-width="0.9">
<line x1="23.4" y1="346" x2="54" y2="346"/><line x1="23.4" y1="348.5" x2="54" y2="348.5"/>
<line x1="23.4" y1="351" x2="54" y2="351"/><line x1="23.4" y1="353.5" x2="54" y2="353.5"/>
<line x1="23.4" y1="356" x2="54" y2="356"/><line x1="23.4" y1="358.5" x2="54" y2="358.5"/>
<line x1="23.4" y1="361" x2="54" y2="361"/><line x1="23.4" y1="363.5" x2="54" y2="363.5"/>
<line x1="23.4" y1="366" x2="54" y2="366"/>
</g>
<path d="M23.4,344.2 L54,344.2 L54,345.2 L24.4,345.2 L24.4,367.4 L23.4,367.4 Z" fill="#6d7080"/>
<rect x="31.4" y="350" width="2" height="3.2" fill="#1e1e28"/>
<rect x="44.7" y="350" width="2" height="3.2" fill="#1e1e28"/>
<path d="M39.8,351.5 L39.4,358 C39.2,359.3 38.2,359.4 37.6,358.6" stroke="#1e1e28" stroke-width="1.8" fill="none"/>
<path d="M33.2,359.6 C35,363.8 42,364.2 45.2,361" stroke="#1e1e28" stroke-width="2" fill="none"/>
<line x1="21" y1="373" x2="56" y2="373" stroke="#f4f4ee" stroke-width="0.8"/>
<line x1="39.8" y1="377.5" x2="53.8" y2="377.5" stroke="#505456" stroke-width="1.5"/>
<circle cx="24.3" cy="381.2" r="1" fill="#d89a5a"/>
</g>
</svg>
</body></html>
